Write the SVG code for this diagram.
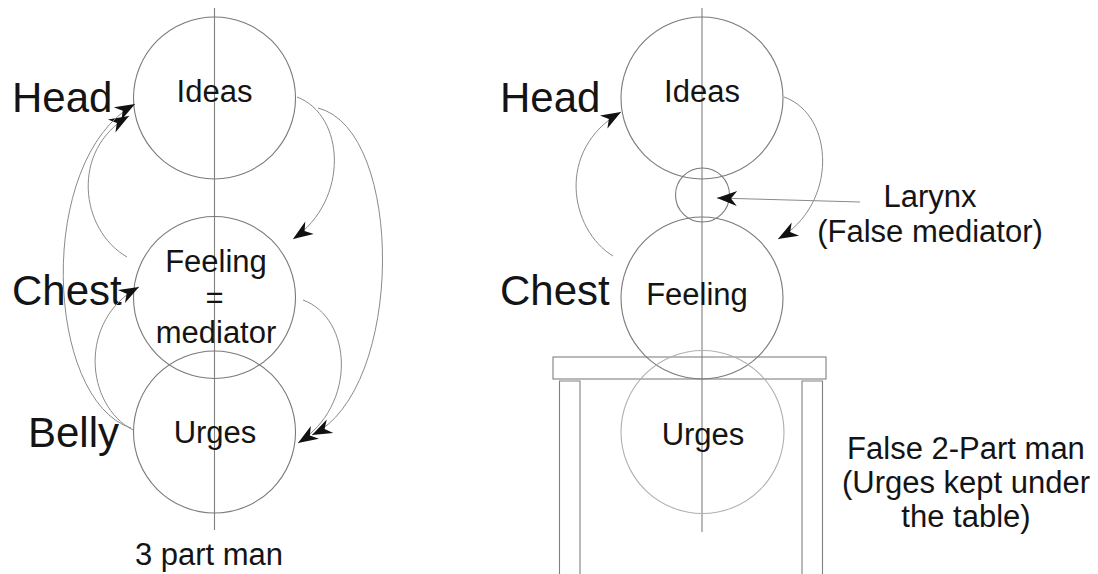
<svg xmlns="http://www.w3.org/2000/svg" width="1098" height="574" viewBox="0 0 1098 574">
<defs>
<style>
.c{fill:none;stroke:#7a7a7a;stroke-width:1.1}
.cl{fill:none;stroke:#b0b0b0;stroke-width:1.1}
.ax{fill:none;stroke:#808080;stroke-width:1.1}
.cv{fill:none;stroke:#8a8a8a;stroke-width:1}
.t{font-family:"Liberation Sans",Arial,sans-serif;font-size:31px;fill:#141414;text-anchor:middle}
.big{font-family:"Liberation Sans",Arial,sans-serif;font-size:42px;fill:#141414}
.tb{fill:none;stroke:#808080;stroke-width:1.1}
</style>
<marker id="ah" markerUnits="userSpaceOnUse" viewBox="-21 -9 22 18" markerWidth="22" markerHeight="18" refX="0" refY="0" orient="auto">
<path d="M0,0 L-20,-7.5 L-14,0 L-20,7.5 Z" fill="#111"/>
</marker>
</defs>
<rect width="1098" height="574" fill="#fff"/>

<g id="axes">
<line class="ax" x1="214.5" y1="8" x2="214.5" y2="530"/>
<line class="ax" x1="702" y1="8" x2="702" y2="532"/>
</g>

<g id="table">
<rect class="tb" x="553" y="357" width="273" height="22"/>
<path class="tb" d="M559.5,574 V381 H580 V574 M802,574 V381 H822.5 V574"/>
</g>

<g id="left-ideas"><circle class="c" cx="214.5" cy="98" r="81"/><text class="t" x="214.5" y="102">Ideas</text></g>
<g id="left-feeling"><circle class="c" cx="214.5" cy="297.5" r="81"/><text class="t" x="216" y="272">Feeling</text><text class="t" x="214.5" y="308">=</text><text class="t" x="216" y="343">mediator</text></g>
<g id="left-urges"><circle class="c" cx="214.5" cy="432" r="81"/><text class="t" x="215" y="443">Urges</text></g>

<g id="right-ideas"><circle class="c" cx="702" cy="98" r="81"/><text class="t" x="702" y="102">Ideas</text></g>
<g id="right-larynx"><circle class="c" cx="702.5" cy="195" r="27"/></g>
<g id="right-feeling"><circle class="c" cx="702" cy="298" r="81"/><text class="t" x="697" y="305">Feeling</text></g>
<g id="right-urges"><circle class="cl" cx="702.5" cy="432" r="81.5"/><text class="t" x="703" y="445">Urges</text></g>

<g id="labels">
<text class="big" x="12" y="112">Head</text>
<text class="big" x="12" y="305">Chest</text>
<text class="big" x="28" y="447">Belly</text>
<text class="t" x="209" y="565">3 part man</text>
<text class="big" x="500" y="112">Head</text>
<text class="big" x="500" y="305">Chest</text>
<text class="t" x="930" y="207">Larynx</text>
<text class="t" x="930" y="242">(False mediator)</text>
<text class="t" x="966" y="459">False 2-Part man</text>
<text class="t" x="966" y="493">(Urges kept under</text>
<text class="t" x="966" y="527">the table)</text>
</g>

<g id="connectors">
<path class="cv" d="M127,257 C80,230 70,150 129,116" marker-end="url(#ah)"/>
<path class="cv" d="M131,428 C45,400 35,160 135,104" marker-end="url(#ah)"/>
<path class="cv" d="M133,430 C85,405 78,320 139,287" marker-end="url(#ah)"/>
<path class="cv" d="M297,97 C345,115 350,200 293,239" marker-end="url(#ah)"/>
<path class="cv" d="M318,108 C405,130 405,390 312,435" marker-end="url(#ah)"/>
<path class="cv" d="M303,300 C352,318 358,405 298,443" marker-end="url(#ah)"/>
<path class="cv" d="M613,256 C570,230 555,150 621,112" marker-end="url(#ah)"/>
<path class="cv" d="M784,97 C835,115 838,205 778,239" marker-end="url(#ah)"/>
<path class="cv" d="M860,202 L717,198" marker-end="url(#ah)"/>
</g>
</svg>
